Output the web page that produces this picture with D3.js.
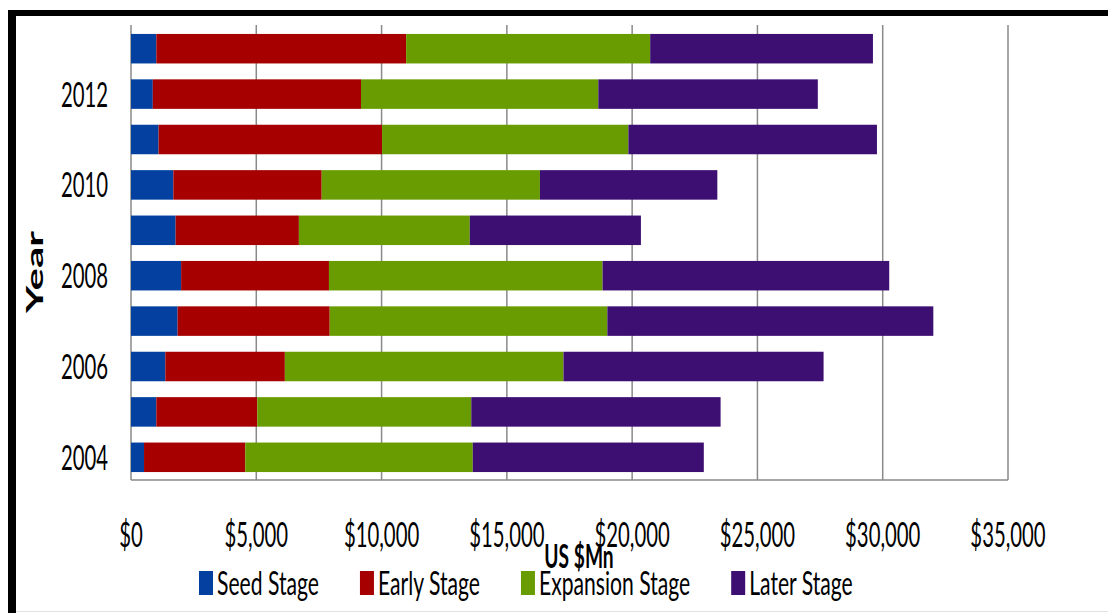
<!DOCTYPE html>
<html>
<head>
<meta charset="utf-8">
<script src="https://cdn.jsdelivr.net/npm/d3@7"></script>
<style>
  html, body { margin: 0; padding: 0; background: #fff; }
  svg { display: block; }
  text { font-family: Lato, "Open Sans", sans-serif; fill: #000; }
</style>
</head>
<body>
<svg id="chart" width="1108" height="613"></svg>
<script>
// values (US $Mn)
const years = [2004, 2005, 2006, 2007, 2008, 2009, 2010, 2011, 2012, 2013];
const seed = [520, 1010, 1370, 1860, 2000, 1780, 1690, 1100, 870, 1010];
const early = [4040, 4030, 4770, 6070, 5900, 4920, 5920, 8920, 8310, 9970];
const expansion = [9080, 8540, 11120, 11080, 10920, 6820, 8710, 9830, 9470, 9740];
const later = [9220, 9950, 10380, 13010, 11440, 6830, 7080, 9920, 8760, 8890];

const stages = ["Seed Stage", "Early Stage", "Expansion Stage", "Later Stage"];
const stageColors = ["#0340a0", "#a60000", "#699c00", "#3d0f72"];
const xTicks = [0, 5000, 10000, 15000, 20000, 25000, 30000, 35000];
const yLabels = [2004, 2006, 2008, 2010, 2012];

const sx = 0.58; // the original picture is squeezed sideways

const rows = years.map((y, i) => ({
  year: y,
  "Seed Stage": seed[i],
  "Early Stage": early[i],
  "Expansion Stage": expansion[i],
  "Later Stage": later[i]
}));

const svg = d3.select("#chart");
const plotLeft = 131, plotRight = 1008, plotTop = 26, plotBottom = 480;

const x = d3.scaleLinear().domain([0, 35000]).range([plotLeft, plotRight]);
const y = d3.scaleBand()
  .domain(years.slice().reverse())
  .range([plotTop, plotBottom])
  .paddingInner(0.35)
  .paddingOuter(0.175);
const color = d3.scaleOrdinal().domain(stages).range(stageColors);

// frame
svg.append("rect").attr("x", 8).attr("y", 10).attr("width", 1100).attr("height", 6).attr("fill", "#000");
svg.append("rect").attr("x", 8).attr("y", 10).attr("width", 8).attr("height", 603).attr("fill", "#000");
svg.append("line").attr("x1", 16).attr("x2", 1108).attr("y1", 611.5).attr("y2", 611.5)
  .attr("stroke", "#e2e2e2").attr("stroke-width", 1);

// gridlines
svg.append("g")
  .selectAll("line")
  .data(xTicks)
  .join("line")
  .attr("x1", (d) => x(d))
  .attr("x2", (d) => x(d))
  .attr("y1", 25)
  .attr("y2", plotBottom)
  .attr("stroke", "#8a8a8a")
  .attr("stroke-width", 1.5);

svg.append("line")
  .attr("x1", plotLeft).attr("x2", plotRight)
  .attr("y1", plotBottom).attr("y2", plotBottom)
  .attr("stroke", "#8a8a8a").attr("stroke-width", 1.5);

// stacked bars
const stacked = d3.stack().keys(stages)(rows);

svg.append("g")
  .selectAll("g")
  .data(stacked)
  .join("g")
  .attr("fill", (d) => color(d.key))
  .selectAll("rect")
  .data((d) => d)
  .join("rect")
  .attr("x", (d) => x(d[0]))
  .attr("width", (d) => x(d[1]) - x(d[0]))
  .attr("y", (d) => y(d.data.year))
  .attr("height", y.bandwidth());

// x tick labels
const fmt = d3.format("$,");
svg.append("g")
  .selectAll("text")
  .data(xTicks)
  .join("text")
  .attr("transform", (d) => `translate(${x(d)},547) scale(${sx},1)`)
  .attr("text-anchor", "middle")
  .attr("font-size", 35)
  .text((d) => fmt(d));

// y tick labels
svg.append("g")
  .selectAll("text")
  .data(yLabels)
  .join("text")
  .attr("transform", (d) => `translate(108,${y(d) + y.bandwidth() / 2 + 12.5}) scale(${sx},1)`)
  .attr("text-anchor", "end")
  .attr("font-size", 35)
  .text((d) => d);

// axis titles (the x title sits on the tick labels in the original too)
svg.append("text")
  .attr("transform", `translate(579,568) scale(0.6,1)`)
  .attr("text-anchor", "middle")
  .attr("font-size", 32)
  .attr("font-weight", "bold")
  .text("US $Mn");

svg.append("text")
  .attr("transform", `translate(43,272) scale(0.52,1) rotate(-90)`)
  .attr("text-anchor", "middle")
  .attr("font-size", 42)
  .attr("font-weight", "bold")
  .text("Year");

// legend
const legendSx = 0.66;
const legend = svg.append("g");
let lx = 199;
stages.forEach((s) => {
  legend.append("rect")
    .attr("x", lx).attr("y", 571)
    .attr("width", 14).attr("height", 24)
    .attr("fill", color(s));
  const t = legend.append("text")
    .attr("transform", `translate(${lx + 18},595) scale(${legendSx},1)`)
    .attr("font-size", 32)
    .text(s);
  lx += 18 + t.node().getComputedTextLength() * legendSx + 41;
});
</script>
</body>
</html>
